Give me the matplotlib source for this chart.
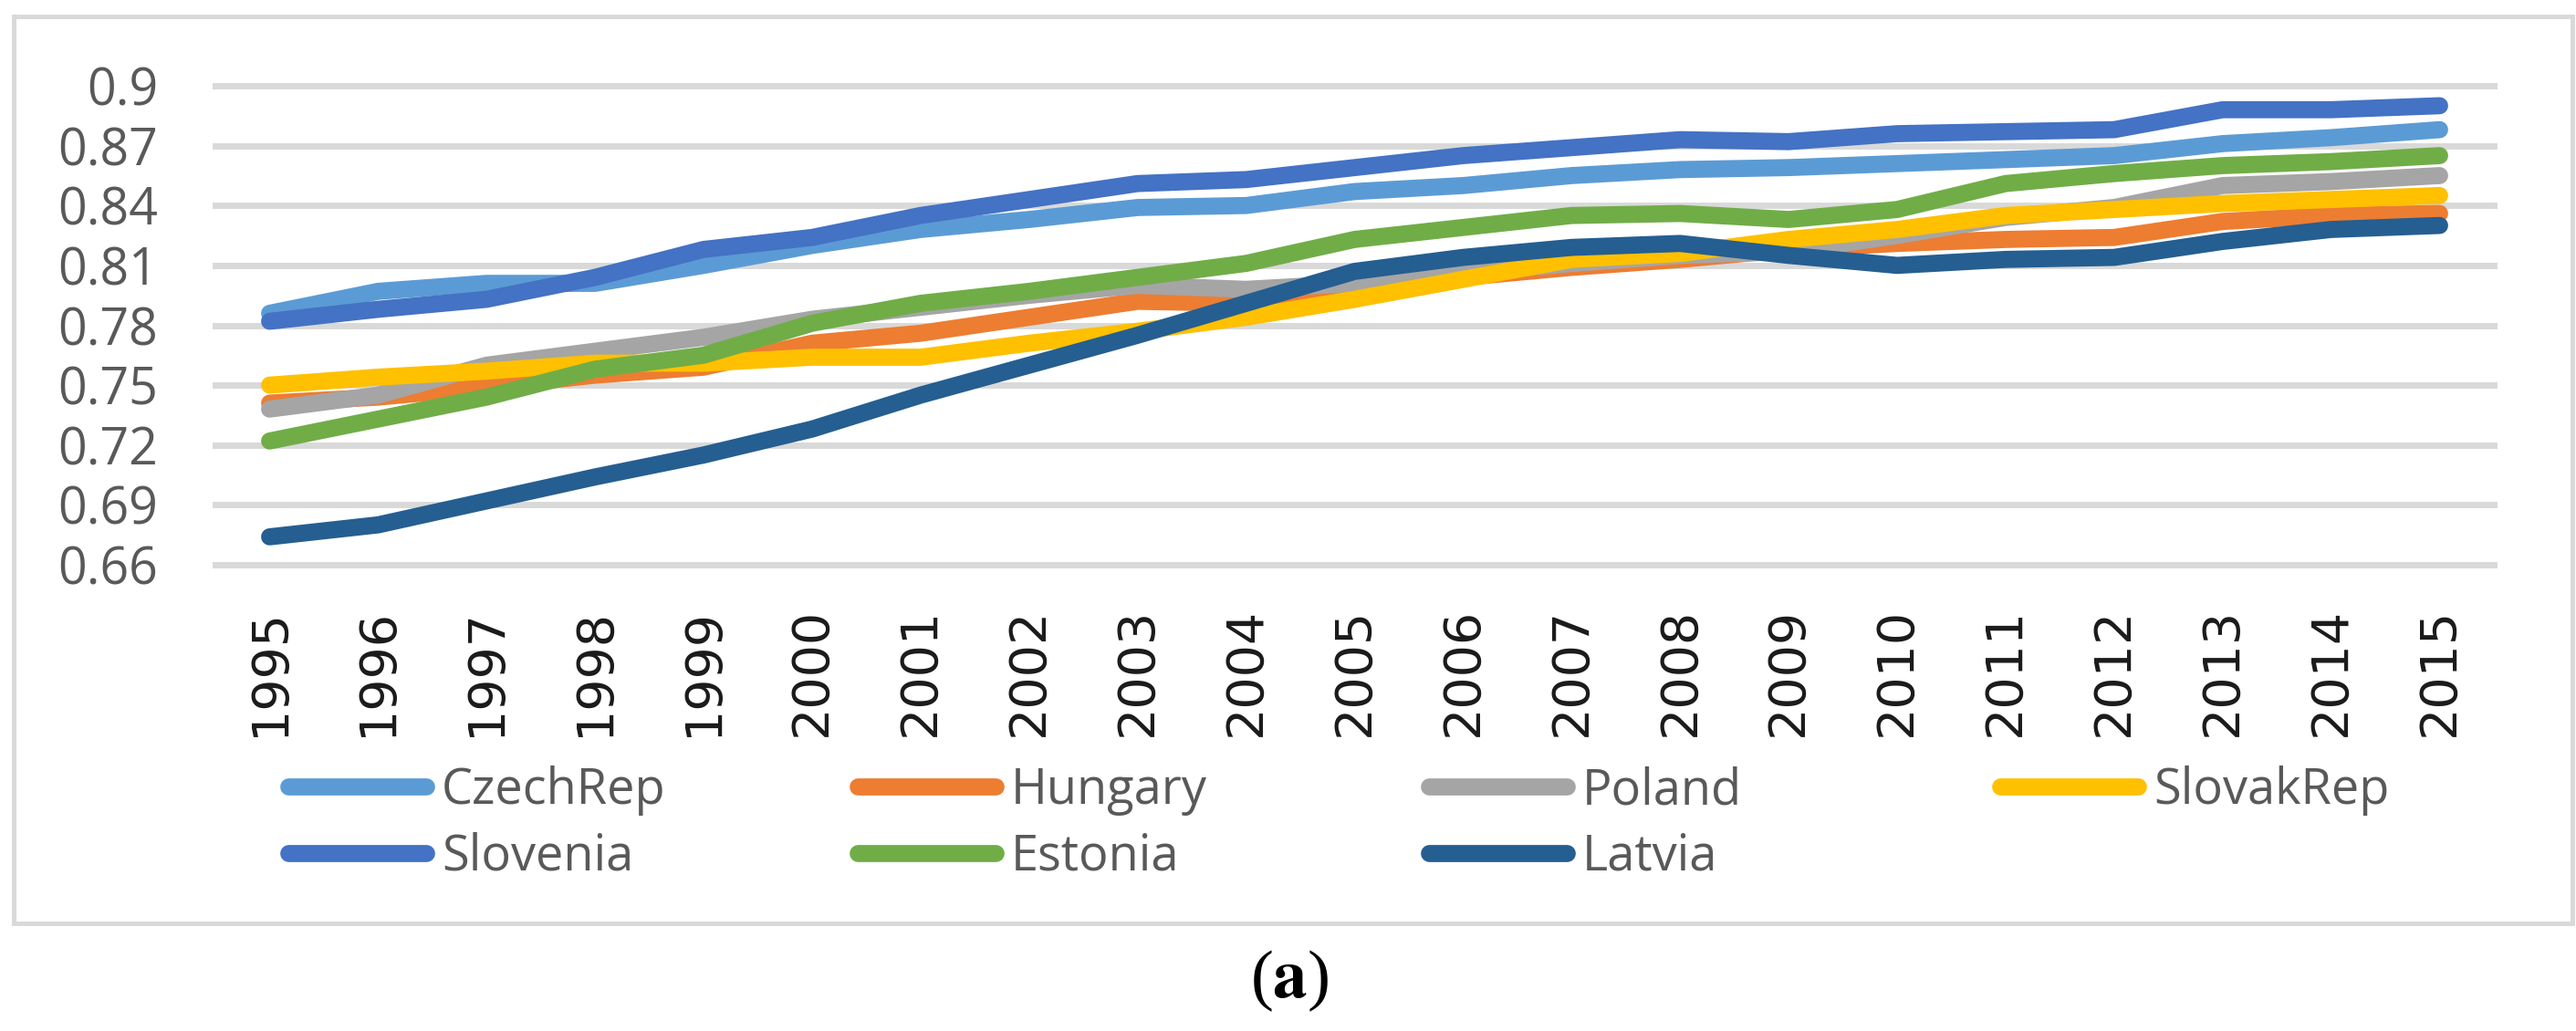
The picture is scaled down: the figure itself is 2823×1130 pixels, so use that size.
import matplotlib.pyplot as plt
from matplotlib.patches import Rectangle

years = list(range(1995, 2016))
countries = ["CzechRep", "Hungary", "Poland", "SlovakRep", "Slovenia", "Estonia", "Latvia"]
colors = ["#5B9BD5", "#ED7D31", "#A5A5A5", "#FFC000", "#4472C4", "#70AD47", "#255E91"]

czech = [0.786, 0.797, 0.801, 0.801, 0.810, 0.820, 0.828, 0.833, 0.839, 0.840, 0.847,
         0.850, 0.855, 0.858, 0.859, 0.861, 0.863, 0.865, 0.871, 0.874, 0.878]
hungary = [0.741, 0.744, 0.749, 0.755, 0.759, 0.771, 0.776, 0.784, 0.792, 0.791, 0.797,
           0.804, 0.809, 0.813, 0.818, 0.821, 0.823, 0.824, 0.832, 0.835, 0.836]
poland = [0.738, 0.745, 0.760, 0.767, 0.774, 0.783, 0.789, 0.795, 0.800, 0.798, 0.801,
          0.806, 0.811, 0.815, 0.817, 0.825, 0.834, 0.839, 0.850, 0.852, 0.855]
slovak = [0.750, 0.754, 0.757, 0.761, 0.761, 0.764, 0.764, 0.771, 0.777, 0.784, 0.793,
          0.803, 0.813, 0.816, 0.823, 0.828, 0.835, 0.838, 0.841, 0.843, 0.845]
slovenia = [0.782, 0.788, 0.793, 0.804, 0.818, 0.824, 0.835, 0.843, 0.851, 0.853, 0.859,
            0.865, 0.869, 0.873, 0.872, 0.876, 0.877, 0.878, 0.888, 0.888, 0.890]
estonia = [0.722, 0.733, 0.744, 0.758, 0.765, 0.781, 0.791, 0.797, 0.804, 0.811, 0.823,
           0.829, 0.835, 0.836, 0.833, 0.838, 0.851, 0.856, 0.860, 0.862, 0.865]
latvia = [0.674, 0.680, 0.692, 0.704, 0.715, 0.728, 0.745, 0.760, 0.775, 0.791, 0.807,
          0.814, 0.819, 0.821, 0.815, 0.810, 0.813, 0.814, 0.822, 0.828, 0.830]
series = [czech, hungary, poland, slovak, slovenia, estonia, latvia]

yticks = [0.66, 0.69, 0.72, 0.75, 0.78, 0.81, 0.84, 0.87, 0.9]
ytick_labels = ["0.66", "0.69", "0.72", "0.75", "0.78", "0.81", "0.84", "0.87", "0.9"]

W, H = 2823, 1130
fig = plt.figure(figsize=(W / 100, H / 100), dpi=100)

# outer chart frame
fig.patches.append(Rectangle((15 / W, 1 - 1012 / H), (2819 - 15) / W, (1012 - 18) / H,
                             transform=fig.transFigure, fill=False,
                             edgecolor="#d9d9d9", lw=3.6))

ax = fig.add_axes([236 / W, 1 - 619 / H, (2733 - 236) / W, (619 - 94) / H])
x = list(range(len(years)))
lines = []
for name, vals, col in zip(countries, series, colors):
    ln, = ax.plot(x, vals, color=col, lw=13.5, solid_capstyle="round",
                  solid_joinstyle="round", label=name)
    lines.append(ln)

ax.set_xlim(-0.5, len(years) - 0.5)
ax.set_ylim(0.66, 0.9)
ax.set_yticks(yticks)
ax.set_yticklabels(ytick_labels)
ax.set_xticks(x)
ax.set_xticklabels([str(y) for y in years], rotation=90)
ax.grid(axis="y", color="#d9d9d9", lw=5)
ax.grid(axis="x", visible=False)
ax.set_axisbelow(True)
for gl in ax.get_ygridlines():
    gl.set_clip_on(False)
for s in ax.spines.values():
    s.set_visible(False)
ax.tick_params(axis="y", length=0, pad=45, labelsize=40, labelcolor="#595959")
ax.tick_params(axis="x", length=0, pad=34, labelsize=40, labelcolor="#1a1a1a")
for t in ax.get_yticklabels():
    t.set_fontfamily("Open Sans")
for t in ax.get_xticklabels():
    t.set_fontfamily("DejaVu Sans")

# legend laid out like Excel: fixed-width columns, row-major order
columns = [[0, 4], [1, 5], [2, 6], [3]]
col_x = [316, 940, 1566, 2192]
for idx, xc in zip(columns, col_x):
    leg = fig.legend(handles=[lines[i] for i in idx], loc="upper left",
                     bbox_to_anchor=(xc / W, 1 - 839 / H), frameon=False,
                     borderpad=0, borderaxespad=0, handlelength=2.79,
                     handletextpad=0.31, labelspacing=0.33,
                     prop={"family": "Open Sans", "size": 39})
    for t in leg.get_texts():
        t.set_color("#595959")

fig.text(1413 / W, 1 - 1075 / H, r"($\mathbf{a}$)", ha="center", va="center",
         fontsize=54, family="Liberation Serif", math_fontfamily="stix")

fig.savefig("out.png", dpi=100)
